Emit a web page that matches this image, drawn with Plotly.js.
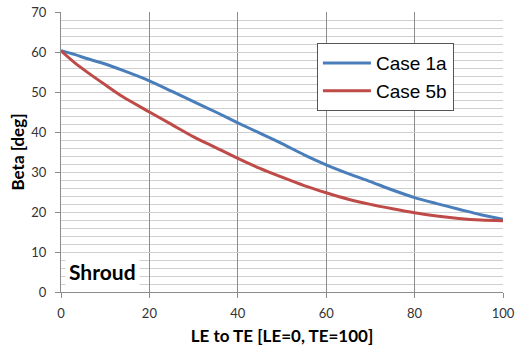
<!DOCTYPE html>
<html>
<head>
<meta charset="utf-8">
<script src="https://cdn.plot.ly/plotly-3.0.1.min.js"></script>
<style>html,body{margin:0;padding:0;background:#fff;}#chart{width:527px;height:351px;}</style>
</head>
<body>
<div id="chart"></div>
<script>
const seriesNames = ["Case 1a", "Case 5b"];
const xCase1a = [0, 3, 6, 10, 14, 20, 25, 30, 35, 40, 45, 50, 55, 60, 65, 70, 75, 80, 85, 90, 95, 100];
const yCase1a = [60.3, 59.4, 58.3, 57.0, 55.4, 52.8, 50.2, 47.6, 45.0, 42.3, 39.7, 37.1, 34.3, 31.8, 29.6, 27.6, 25.5, 23.6, 22.1, 20.7, 19.3, 18.2];
const xCase5b = [0, 3, 6, 10, 14, 20, 25, 30, 35, 40, 45, 50, 55, 60, 65, 70, 75, 80, 85, 90, 95, 100];
const yCase5b = [60.3, 57.4, 54.9, 51.8, 48.8, 45.0, 41.9, 38.8, 36.1, 33.4, 30.9, 28.7, 26.6, 24.8, 23.2, 21.9, 20.8, 19.8, 19.0, 18.4, 18.0, 17.8];
const annotationText = "Shroud";
const xTitle = "LE to TE [LE=0, TE=100]";
const yTitle = "Beta [deg]";

const traces = [
  {x: xCase1a, y: yCase1a, name: seriesNames[0], mode: "lines",
   line: {color: "#4a7ebb", width: 3, shape: "spline", smoothing: 0.8}},
  {x: xCase5b, y: yCase5b, name: seriesNames[1], mode: "lines",
   line: {color: "#be4b48", width: 3, shape: "spline", smoothing: 0.8}}
];

const tickFont = {family: "Lato, 'Open Sans', sans-serif", size: 13, color: "#333"};
const titleFont = {family: "Lato, 'Open Sans', sans-serif", size: 17, color: "#000", weight: "bold"};

const layout = {
  width: 527, height: 351,
  margin: {l: 61, r: 24, t: 12, b: 59},
  paper_bgcolor: "#fff", plot_bgcolor: "#fff",
  showlegend: true,
  legend: {
    x: 0.579, y: 0.889, xanchor: "left", yanchor: "top",
    bgcolor: "#fff", bordercolor: "#555", borderwidth: 1,
    font: {family: "'Liberation Sans', Arial, sans-serif", size: 19, color: "#000"},
    tracegroupgap: 0, itemwidth: 48
  },
  xaxis: {
    range: [0, 100], dtick: 20, tick0: 0,
    showgrid: true, gridcolor: "#8c8c8c", gridwidth: 1,
    showline: true, linecolor: "#8c8c8c", linewidth: 1,
    ticks: "outside", ticklen: 5, tickcolor: "#8c8c8c",
    zeroline: false, tickfont: tickFont, ticklabelstandoff: 4,
    title: {text: xTitle, font: titleFont, standoff: 10}
  },
  yaxis: {
    range: [0, 70], dtick: 10, tick0: 0,
    showgrid: true, gridcolor: "#cfcfcf", gridwidth: 1,
    minor: {dtick: 2, showgrid: true, gridcolor: "#cfcfcf", gridwidth: 1},
    showline: true, linecolor: "#8c8c8c", linewidth: 1,
    ticks: "outside", ticklen: 5, tickcolor: "#8c8c8c",
    zeroline: false, tickfont: tickFont, ticklabelstandoff: 6,
    title: {text: yTitle, font: titleFont, standoff: 2}
  },
  annotations: [{
    x: 9.3, y: 5.25, xref: "x", yref: "y", text: annotationText, showarrow: false,
    font: {family: "Lato, 'Open Sans', sans-serif", size: 21, color: "#000", weight: "bold"},
    bgcolor: "#fff", borderpad: 3
  }]
};

Plotly.newPlot("chart", traces, layout, {displayModeBar: false, staticPlot: true});
</script>
</body>
</html>
